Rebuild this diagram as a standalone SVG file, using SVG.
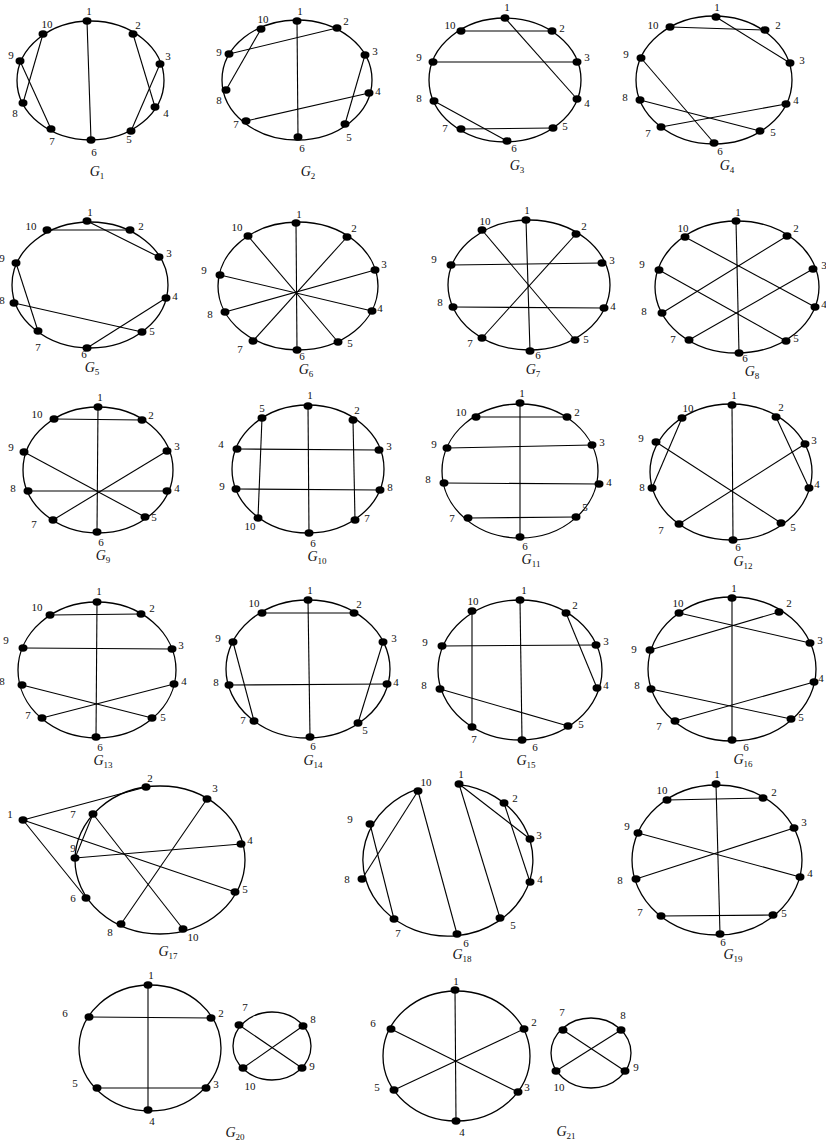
<svg xmlns="http://www.w3.org/2000/svg" width="826" height="1142" viewBox="0 0 826 1142">
<style>
.ring{fill:none;stroke:#000;stroke-width:1.3}
.e line{stroke:#000;stroke-width:1.1}
.n ellipse{fill:#000}
.n text{font-family:"Liberation Serif",serif;font-size:11px;fill:#111;text-anchor:middle}
.cap{font-family:"Liberation Serif",serif;font-size:14px;font-style:italic;text-anchor:middle;fill:#111}
.cap tspan{font-style:normal;font-size:9px}
</style>
<rect width="826" height="1142" fill="#fff"/>

<!-- G1 -->
<g id="G1">
<ellipse class="ring" cx="90.5" cy="80.5" rx="73.5" ry="59.5"/>
<g class="e" id="G1-edges"><line x1="87" y1="21" x2="91" y2="140"/><line x1="43" y1="34" x2="23" y2="103"/><line x1="20" y1="61" x2="51" y2="129"/><line x1="133" y1="34" x2="155" y2="107"/><line x1="160" y1="64" x2="131" y2="131"/></g>
<g class="n" id="G1-n1"><ellipse cx="87" cy="21" rx="4.5" ry="3.7"/><text x="89" y="15">1</text></g>
<g class="n" id="G1-n2"><ellipse cx="133" cy="34" rx="4.5" ry="3.7"/><text x="138" y="29">2</text></g>
<g class="n" id="G1-n3"><ellipse cx="160" cy="64" rx="4.5" ry="3.7"/><text x="168" y="60">3</text></g>
<g class="n" id="G1-n4"><ellipse cx="155" cy="107" rx="4.5" ry="3.7"/><text x="166" y="117">4</text></g>
<g class="n" id="G1-n5"><ellipse cx="131" cy="131" rx="4.5" ry="3.7"/><text x="129" y="143">5</text></g>
<g class="n" id="G1-n6"><ellipse cx="91" cy="140" rx="4.5" ry="3.7"/><text x="94" y="156">6</text></g>
<g class="n" id="G1-n7"><ellipse cx="51" cy="129" rx="4.5" ry="3.7"/><text x="52" y="145">7</text></g>
<g class="n" id="G1-n8"><ellipse cx="23" cy="103" rx="4.5" ry="3.7"/><text x="15" y="117">8</text></g>
<g class="n" id="G1-n9"><ellipse cx="20" cy="61" rx="4.5" ry="3.7"/><text x="11" y="59">9</text></g>
<g class="n" id="G1-n10"><ellipse cx="43" cy="34" rx="4.5" ry="3.7"/><text x="47" y="28">10</text></g>
<text class="cap" x="97" y="176">G<tspan dy="3">1</tspan></text>
</g>

<!-- G2 -->
<g id="G2">
<ellipse class="ring" cx="297" cy="80" rx="75" ry="60"/>
<g class="e" id="G2-edges"><line x1="297" y1="21" x2="298" y2="137"/><line x1="261" y1="29" x2="226" y2="90"/><line x1="229" y1="54" x2="337" y2="28"/><line x1="365" y1="55" x2="345" y2="124"/><line x1="246" y1="121" x2="369" y2="93"/></g>
<g class="n" id="G2-n1"><ellipse cx="297" cy="21" rx="4.5" ry="3.7"/><text x="300" y="15">1</text></g>
<g class="n" id="G2-n2"><ellipse cx="337" cy="28" rx="4.5" ry="3.7"/><text x="346" y="25">2</text></g>
<g class="n" id="G2-n3"><ellipse cx="365" cy="55" rx="4.5" ry="3.7"/><text x="375" y="55">3</text></g>
<g class="n" id="G2-n4"><ellipse cx="369" cy="93" rx="4.5" ry="3.7"/><text x="378" y="95">4</text></g>
<g class="n" id="G2-n5"><ellipse cx="345" cy="124" rx="4.5" ry="3.7"/><text x="349" y="141">5</text></g>
<g class="n" id="G2-n6"><ellipse cx="298" cy="137" rx="4.5" ry="3.7"/><text x="302" y="152">6</text></g>
<g class="n" id="G2-n7"><ellipse cx="246" cy="121" rx="4.5" ry="3.7"/><text x="236" y="128">7</text></g>
<g class="n" id="G2-n8"><ellipse cx="226" cy="90" rx="4.5" ry="3.7"/><text x="219" y="104">8</text></g>
<g class="n" id="G2-n9"><ellipse cx="229" cy="54" rx="4.5" ry="3.7"/><text x="219" y="56">9</text></g>
<g class="n" id="G2-n10"><ellipse cx="261" cy="29" rx="4.5" ry="3.7"/><text x="263" y="23">10</text></g>
<text class="cap" x="308" y="176">G<tspan dy="3">2</tspan></text>
</g>

<!-- G3 -->
<g id="G3">
<ellipse class="ring" cx="505" cy="80" rx="76" ry="62"/>
<g class="e" id="G3-edges"><line x1="505" y1="18" x2="577" y2="99"/><line x1="461" y1="31" x2="552" y2="31"/><line x1="433" y1="62" x2="577" y2="62"/><line x1="434" y1="101" x2="507" y2="141"/><line x1="461" y1="129" x2="553" y2="128"/></g>
<g class="n" id="G3-n1"><ellipse cx="505" cy="18" rx="4.5" ry="3.7"/><text x="507" y="11">1</text></g>
<g class="n" id="G3-n2"><ellipse cx="552" cy="31" rx="4.5" ry="3.7"/><text x="562" y="32">2</text></g>
<g class="n" id="G3-n3"><ellipse cx="577" cy="62" rx="4.5" ry="3.7"/><text x="587" y="61">3</text></g>
<g class="n" id="G3-n4"><ellipse cx="577" cy="99" rx="4.5" ry="3.7"/><text x="587" y="107">4</text></g>
<g class="n" id="G3-n5"><ellipse cx="553" cy="128" rx="4.5" ry="3.7"/><text x="565" y="130">5</text></g>
<g class="n" id="G3-n6"><ellipse cx="507" cy="141" rx="4.5" ry="3.7"/><text x="514" y="152">6</text></g>
<g class="n" id="G3-n7"><ellipse cx="461" cy="129" rx="4.5" ry="3.7"/><text x="445" y="132">7</text></g>
<g class="n" id="G3-n8"><ellipse cx="434" cy="101" rx="4.5" ry="3.7"/><text x="419" y="102">8</text></g>
<g class="n" id="G3-n9"><ellipse cx="433" cy="62" rx="4.5" ry="3.7"/><text x="419" y="61">9</text></g>
<g class="n" id="G3-n10"><ellipse cx="461" cy="31" rx="4.5" ry="3.7"/><text x="450" y="29">10</text></g>
<text class="cap" x="517" y="170">G<tspan dy="3">3</tspan></text>
</g>

<!-- G4 -->
<g id="G4">
<ellipse class="ring" cx="714" cy="80" rx="78" ry="64"/>
<g class="e" id="G4-edges"><line x1="670" y1="27" x2="765" y2="30"/><line x1="716" y1="17" x2="790" y2="63"/><line x1="641" y1="58" x2="714" y2="143"/><line x1="640" y1="100" x2="760" y2="131"/><line x1="661" y1="127" x2="786" y2="104"/></g>
<g class="n" id="G4-n1"><ellipse cx="716" cy="17" rx="4.5" ry="3.7"/><text x="717" y="11">1</text></g>
<g class="n" id="G4-n2"><ellipse cx="765" cy="30" rx="4.5" ry="3.7"/><text x="778" y="29">2</text></g>
<g class="n" id="G4-n3"><ellipse cx="790" cy="63" rx="4.5" ry="3.7"/><text x="802" y="64">3</text></g>
<g class="n" id="G4-n4"><ellipse cx="786" cy="104" rx="4.5" ry="3.7"/><text x="796" y="104">4</text></g>
<g class="n" id="G4-n5"><ellipse cx="760" cy="131" rx="4.5" ry="3.7"/><text x="773" y="136">5</text></g>
<g class="n" id="G4-n6"><ellipse cx="714" cy="143" rx="4.5" ry="3.7"/><text x="720" y="155">6</text></g>
<g class="n" id="G4-n7"><ellipse cx="661" cy="127" rx="4.5" ry="3.7"/><text x="648" y="137">7</text></g>
<g class="n" id="G4-n8"><ellipse cx="640" cy="100" rx="4.5" ry="3.7"/><text x="625" y="101">8</text></g>
<g class="n" id="G4-n9"><ellipse cx="641" cy="58" rx="4.5" ry="3.7"/><text x="626" y="58">9</text></g>
<g class="n" id="G4-n10"><ellipse cx="670" cy="27" rx="4.5" ry="3.7"/><text x="653" y="29">10</text></g>
<text class="cap" x="727" y="170">G<tspan dy="3">4</tspan></text>
</g>

<!-- G5 -->
<g id="G5">
<ellipse class="ring" cx="90" cy="285" rx="78" ry="63"/>
<g class="e" id="G5-edges"><line x1="47" y1="230" x2="130" y2="230"/><line x1="87" y1="221" x2="159" y2="257"/><line x1="16" y1="263" x2="38" y2="331"/><line x1="14" y1="303" x2="142" y2="332"/><line x1="87" y1="348" x2="166" y2="298"/></g>
<g class="n" id="G5-n1"><ellipse cx="87" cy="221" rx="4.5" ry="3.7"/><text x="90" y="216">1</text></g>
<g class="n" id="G5-n2"><ellipse cx="130" cy="230" rx="4.5" ry="3.7"/><text x="141" y="230">2</text></g>
<g class="n" id="G5-n3"><ellipse cx="159" cy="257" rx="4.5" ry="3.7"/><text x="169" y="257">3</text></g>
<g class="n" id="G5-n4"><ellipse cx="166" cy="298" rx="4.5" ry="3.7"/><text x="175" y="300">4</text></g>
<g class="n" id="G5-n5"><ellipse cx="142" cy="332" rx="4.5" ry="3.7"/><text x="152" y="335">5</text></g>
<g class="n" id="G5-n6"><ellipse cx="87" cy="348" rx="4.5" ry="3.7"/><text x="84" y="358">6</text></g>
<g class="n" id="G5-n7"><ellipse cx="38" cy="331" rx="4.5" ry="3.7"/><text x="38" y="351">7</text></g>
<g class="n" id="G5-n8"><ellipse cx="14" cy="303" rx="4.5" ry="3.7"/><text x="2" y="304">8</text></g>
<g class="n" id="G5-n9"><ellipse cx="16" cy="263" rx="4.5" ry="3.7"/><text x="2" y="262">9</text></g>
<g class="n" id="G5-n10"><ellipse cx="47" cy="230" rx="4.5" ry="3.7"/><text x="31" y="230">10</text></g>
<text class="cap" x="92" y="372">G<tspan dy="3">5</tspan></text>
</g>

<!-- G6 -->
<g id="G6">
<ellipse class="ring" cx="298" cy="286" rx="80" ry="64"/>
<g class="e" id="G6-edges"><line x1="296" y1="223" x2="297" y2="350"/><line x1="248" y1="236" x2="338" y2="342"/><line x1="347" y1="237" x2="253" y2="341"/><line x1="375" y1="270" x2="225" y2="312"/><line x1="220" y1="275" x2="372" y2="311"/></g>
<g class="n" id="G6-n1"><ellipse cx="296" cy="223" rx="4.5" ry="3.7"/><text x="299" y="218">1</text></g>
<g class="n" id="G6-n2"><ellipse cx="347" cy="237" rx="4.5" ry="3.7"/><text x="354" y="232">2</text></g>
<g class="n" id="G6-n3"><ellipse cx="375" cy="270" rx="4.5" ry="3.7"/><text x="384" y="268">3</text></g>
<g class="n" id="G6-n4"><ellipse cx="372" cy="311" rx="4.5" ry="3.7"/><text x="380" y="312">4</text></g>
<g class="n" id="G6-n5"><ellipse cx="338" cy="342" rx="4.5" ry="3.7"/><text x="350" y="347">5</text></g>
<g class="n" id="G6-n6"><ellipse cx="297" cy="350" rx="4.5" ry="3.7"/><text x="302" y="360">6</text></g>
<g class="n" id="G6-n7"><ellipse cx="253" cy="341" rx="4.5" ry="3.7"/><text x="240" y="353">7</text></g>
<g class="n" id="G6-n8"><ellipse cx="225" cy="312" rx="4.5" ry="3.7"/><text x="210" y="318">8</text></g>
<g class="n" id="G6-n9"><ellipse cx="220" cy="275" rx="4.5" ry="3.7"/><text x="204" y="274">9</text></g>
<g class="n" id="G6-n10"><ellipse cx="248" cy="236" rx="4.5" ry="3.7"/><text x="237" y="231">10</text></g>
<text class="cap" x="306" y="374">G<tspan dy="3">6</tspan></text>
</g>

<!-- G7 -->
<g id="G7">
<ellipse class="ring" cx="529" cy="285" rx="81" ry="65"/>
<g class="e" id="G7-edges"><line x1="526" y1="220" x2="530" y2="351"/><line x1="482" y1="230" x2="575" y2="340"/><line x1="576" y1="234" x2="482" y2="338"/><line x1="451" y1="265" x2="602" y2="263"/><line x1="453" y1="307" x2="604" y2="308"/></g>
<g class="n" id="G7-n1"><ellipse cx="526" cy="220" rx="4.5" ry="3.7"/><text x="527" y="214">1</text></g>
<g class="n" id="G7-n2"><ellipse cx="576" cy="234" rx="4.5" ry="3.7"/><text x="584" y="230">2</text></g>
<g class="n" id="G7-n3"><ellipse cx="602" cy="263" rx="4.5" ry="3.7"/><text x="612" y="264">3</text></g>
<g class="n" id="G7-n4"><ellipse cx="604" cy="308" rx="4.5" ry="3.7"/><text x="613" y="310">4</text></g>
<g class="n" id="G7-n5"><ellipse cx="575" cy="340" rx="4.5" ry="3.7"/><text x="586" y="343">5</text></g>
<g class="n" id="G7-n6"><ellipse cx="530" cy="351" rx="4.5" ry="3.7"/><text x="538" y="359">6</text></g>
<g class="n" id="G7-n7"><ellipse cx="482" cy="338" rx="4.5" ry="3.7"/><text x="470" y="347">7</text></g>
<g class="n" id="G7-n8"><ellipse cx="453" cy="307" rx="4.5" ry="3.7"/><text x="440" y="306">8</text></g>
<g class="n" id="G7-n9"><ellipse cx="451" cy="265" rx="4.5" ry="3.7"/><text x="434" y="263">9</text></g>
<g class="n" id="G7-n10"><ellipse cx="482" cy="230" rx="4.5" ry="3.7"/><text x="485" y="225">10</text></g>
<text class="cap" x="533" y="374">G<tspan dy="3">7</tspan></text>
</g>

<!-- G8 -->
<g id="G8">
<ellipse class="ring" cx="737" cy="287" rx="82" ry="66"/>
<g class="e" id="G8-edges"><line x1="736" y1="221" x2="739" y2="353"/><line x1="685" y1="237" x2="815" y2="307"/><line x1="787" y1="236" x2="662" y2="313"/><line x1="659" y1="270" x2="786" y2="341"/><line x1="689" y1="340" x2="813" y2="269"/></g>
<g class="n" id="G8-n1"><ellipse cx="736" cy="221" rx="4.5" ry="3.7"/><text x="738" y="216">1</text></g>
<g class="n" id="G8-n2"><ellipse cx="787" cy="236" rx="4.5" ry="3.7"/><text x="796" y="232">2</text></g>
<g class="n" id="G8-n3"><ellipse cx="813" cy="269" rx="4.5" ry="3.7"/><text x="824" y="269">3</text></g>
<g class="n" id="G8-n4"><ellipse cx="815" cy="307" rx="4.5" ry="3.7"/><text x="824" y="308">4</text></g>
<g class="n" id="G8-n5"><ellipse cx="786" cy="341" rx="4.5" ry="3.7"/><text x="796" y="342">5</text></g>
<g class="n" id="G8-n6"><ellipse cx="739" cy="353" rx="4.5" ry="3.7"/><text x="745" y="362">6</text></g>
<g class="n" id="G8-n7"><ellipse cx="689" cy="340" rx="4.5" ry="3.7"/><text x="673" y="343">7</text></g>
<g class="n" id="G8-n8"><ellipse cx="662" cy="313" rx="4.5" ry="3.7"/><text x="644" y="315">8</text></g>
<g class="n" id="G8-n9"><ellipse cx="659" cy="270" rx="4.5" ry="3.7"/><text x="642" y="268">9</text></g>
<g class="n" id="G8-n10"><ellipse cx="685" cy="237" rx="4.5" ry="3.7"/><text x="683" y="232">10</text></g>
<text class="cap" x="752" y="376">G<tspan dy="3">8</tspan></text>
</g>

<!-- G9 -->
<g id="G9">
<ellipse class="ring" cx="98" cy="470" rx="75" ry="63"/>
<g class="e" id="G9-edges"><line x1="98" y1="407" x2="97" y2="532"/><line x1="54" y1="419" x2="142" y2="420"/><line x1="24" y1="452" x2="145" y2="517"/><line x1="167" y1="451" x2="53" y2="520"/><line x1="28" y1="491" x2="167" y2="491"/></g>
<g class="n" id="G9-n1"><ellipse cx="98" cy="407" rx="4.5" ry="3.7"/><text x="100" y="401">1</text></g>
<g class="n" id="G9-n2"><ellipse cx="142" cy="420" rx="4.5" ry="3.7"/><text x="151" y="419">2</text></g>
<g class="n" id="G9-n3"><ellipse cx="167" cy="451" rx="4.5" ry="3.7"/><text x="177" y="450">3</text></g>
<g class="n" id="G9-n4"><ellipse cx="167" cy="491" rx="4.5" ry="3.7"/><text x="177" y="492">4</text></g>
<g class="n" id="G9-n5"><ellipse cx="145" cy="517" rx="4.5" ry="3.7"/><text x="154" y="521">5</text></g>
<g class="n" id="G9-n6"><ellipse cx="97" cy="532" rx="4.5" ry="3.7"/><text x="101" y="546">6</text></g>
<g class="n" id="G9-n7"><ellipse cx="53" cy="520" rx="4.5" ry="3.7"/><text x="34" y="528">7</text></g>
<g class="n" id="G9-n8"><ellipse cx="28" cy="491" rx="4.5" ry="3.7"/><text x="13" y="492">8</text></g>
<g class="n" id="G9-n9"><ellipse cx="24" cy="452" rx="4.5" ry="3.7"/><text x="11" y="451">9</text></g>
<g class="n" id="G9-n10"><ellipse cx="54" cy="419" rx="4.5" ry="3.7"/><text x="37" y="418">10</text></g>
<text class="cap" x="103" y="560">G<tspan dy="3">9</tspan></text>
</g>

<!-- G10 -->
<g id="G10">
<ellipse class="ring" cx="308" cy="469" rx="76" ry="64"/>
<g class="e" id="G10-edges"><line x1="308" y1="406" x2="309" y2="533"/><line x1="262" y1="418" x2="258" y2="518"/><line x1="353" y1="420" x2="355" y2="520"/><line x1="237" y1="449" x2="379" y2="450"/><line x1="236" y1="489" x2="380" y2="490"/></g>
<g class="n" id="G10-n1"><ellipse cx="308" cy="406" rx="4.5" ry="3.7"/><text x="310" y="399">1</text></g>
<g class="n" id="G10-n2"><ellipse cx="353" cy="420" rx="4.5" ry="3.7"/><text x="357" y="414">2</text></g>
<g class="n" id="G10-n3"><ellipse cx="379" cy="450" rx="4.5" ry="3.7"/><text x="389" y="450">3</text></g>
<g class="n" id="G10-n4"><ellipse cx="237" cy="449" rx="4.5" ry="3.7"/><text x="221" y="448">4</text></g>
<g class="n" id="G10-n5"><ellipse cx="262" cy="418" rx="4.5" ry="3.7"/><text x="262" y="412">5</text></g>
<g class="n" id="G10-n6"><ellipse cx="309" cy="533" rx="4.5" ry="3.7"/><text x="313" y="547">6</text></g>
<g class="n" id="G10-n7"><ellipse cx="355" cy="520" rx="4.5" ry="3.7"/><text x="367" y="522">7</text></g>
<g class="n" id="G10-n8"><ellipse cx="380" cy="490" rx="4.5" ry="3.7"/><text x="390" y="491">8</text></g>
<g class="n" id="G10-n9"><ellipse cx="236" cy="489" rx="4.5" ry="3.7"/><text x="222" y="490">9</text></g>
<g class="n" id="G10-n10"><ellipse cx="258" cy="518" rx="4.5" ry="3.7"/><text x="250" y="530">10</text></g>
<text class="cap" x="317" y="561">G<tspan dy="3">10</tspan></text>
</g>

<!-- G11 -->
<g id="G11">
<ellipse class="ring" cx="520" cy="471" rx="78" ry="67"/>
<g class="e" id="G11-edges"><line x1="520" y1="403" x2="520" y2="537"/><line x1="476" y1="417" x2="567" y2="417"/><line x1="447" y1="448" x2="592" y2="445"/><line x1="444" y1="483" x2="599" y2="484"/><line x1="468" y1="518" x2="576" y2="517"/></g>
<g class="n" id="G11-n1"><ellipse cx="520" cy="403" rx="4.5" ry="3.7"/><text x="522" y="397">1</text></g>
<g class="n" id="G11-n2"><ellipse cx="567" cy="417" rx="4.5" ry="3.7"/><text x="577" y="416">2</text></g>
<g class="n" id="G11-n3"><ellipse cx="592" cy="445" rx="4.5" ry="3.7"/><text x="602" y="446">3</text></g>
<g class="n" id="G11-n4"><ellipse cx="599" cy="484" rx="4.5" ry="3.7"/><text x="609" y="486">4</text></g>
<g class="n" id="G11-n5"><ellipse cx="576" cy="517" rx="4.5" ry="3.7"/><text x="585" y="511">5</text></g>
<g class="n" id="G11-n6"><ellipse cx="520" cy="537" rx="4.5" ry="3.7"/><text x="525" y="550">6</text></g>
<g class="n" id="G11-n7"><ellipse cx="468" cy="518" rx="4.5" ry="3.7"/><text x="452" y="522">7</text></g>
<g class="n" id="G11-n8"><ellipse cx="444" cy="483" rx="4.5" ry="3.7"/><text x="428" y="483">8</text></g>
<g class="n" id="G11-n9"><ellipse cx="447" cy="448" rx="4.5" ry="3.7"/><text x="434" y="448">9</text></g>
<g class="n" id="G11-n10"><ellipse cx="476" cy="417" rx="4.5" ry="3.7"/><text x="461" y="416">10</text></g>
<text class="cap" x="531" y="564">G<tspan dy="3">11</tspan></text>
</g>

<!-- G12 -->
<g id="G12">
<ellipse class="ring" cx="731" cy="472" rx="81" ry="68"/>
<g class="e" id="G12-edges"><line x1="732" y1="405" x2="733" y2="540"/><line x1="682" y1="418" x2="652" y2="488"/><line x1="776" y1="417" x2="809" y2="488"/><line x1="656" y1="442" x2="781" y2="523"/><line x1="805" y1="444" x2="679" y2="524"/></g>
<g class="n" id="G12-n1"><ellipse cx="732" cy="405" rx="4.5" ry="3.7"/><text x="734" y="399">1</text></g>
<g class="n" id="G12-n2"><ellipse cx="776" cy="417" rx="4.5" ry="3.7"/><text x="781" y="411">2</text></g>
<g class="n" id="G12-n3"><ellipse cx="805" cy="444" rx="4.5" ry="3.7"/><text x="814" y="444">3</text></g>
<g class="n" id="G12-n4"><ellipse cx="809" cy="488" rx="4.5" ry="3.7"/><text x="817" y="488">4</text></g>
<g class="n" id="G12-n5"><ellipse cx="781" cy="523" rx="4.5" ry="3.7"/><text x="793" y="531">5</text></g>
<g class="n" id="G12-n6"><ellipse cx="733" cy="540" rx="4.5" ry="3.7"/><text x="738" y="551">6</text></g>
<g class="n" id="G12-n7"><ellipse cx="679" cy="524" rx="4.5" ry="3.7"/><text x="661" y="534">7</text></g>
<g class="n" id="G12-n8"><ellipse cx="652" cy="488" rx="4.5" ry="3.7"/><text x="642" y="491">8</text></g>
<g class="n" id="G12-n9"><ellipse cx="656" cy="442" rx="4.5" ry="3.7"/><text x="641" y="442">9</text></g>
<g class="n" id="G12-n10"><ellipse cx="682" cy="418" rx="4.5" ry="3.7"/><text x="688" y="412">10</text></g>
<text class="cap" x="743" y="566">G<tspan dy="3">12</tspan></text>
</g>

<!-- G13 -->
<g id="G13">
<ellipse class="ring" cx="97" cy="670" rx="79" ry="68"/>
<g class="e" id="G13-edges"><line x1="97" y1="602" x2="96" y2="737"/><line x1="50" y1="615" x2="141" y2="614"/><line x1="23" y1="648" x2="172" y2="649"/><line x1="22" y1="685" x2="152" y2="718"/><line x1="42" y1="718" x2="174" y2="684"/></g>
<g class="n" id="G13-n1"><ellipse cx="97" cy="602" rx="4.5" ry="3.7"/><text x="99" y="595">1</text></g>
<g class="n" id="G13-n2"><ellipse cx="141" cy="614" rx="4.5" ry="3.7"/><text x="152" y="612">2</text></g>
<g class="n" id="G13-n3"><ellipse cx="172" cy="649" rx="4.5" ry="3.7"/><text x="181" y="649">3</text></g>
<g class="n" id="G13-n4"><ellipse cx="174" cy="684" rx="4.5" ry="3.7"/><text x="184" y="685">4</text></g>
<g class="n" id="G13-n5"><ellipse cx="152" cy="718" rx="4.5" ry="3.7"/><text x="163" y="721">5</text></g>
<g class="n" id="G13-n6"><ellipse cx="96" cy="737" rx="4.5" ry="3.7"/><text x="100" y="751">6</text></g>
<g class="n" id="G13-n7"><ellipse cx="42" cy="718" rx="4.5" ry="3.7"/><text x="28" y="719">7</text></g>
<g class="n" id="G13-n8"><ellipse cx="22" cy="685" rx="4.5" ry="3.7"/><text x="2" y="685">8</text></g>
<g class="n" id="G13-n9"><ellipse cx="23" cy="648" rx="4.5" ry="3.7"/><text x="6" y="644">9</text></g>
<g class="n" id="G13-n10"><ellipse cx="50" cy="615" rx="4.5" ry="3.7"/><text x="37" y="611">10</text></g>
<text class="cap" x="103" y="765">G<tspan dy="3">13</tspan></text>
</g>

<!-- G14 -->
<g id="G14">
<ellipse class="ring" cx="308" cy="669" rx="82" ry="69"/>
<g class="e" id="G14-edges"><line x1="308" y1="600" x2="310" y2="737"/><line x1="262" y1="613" x2="354" y2="613"/><line x1="233" y1="642" x2="254" y2="721"/><line x1="229" y1="685" x2="387" y2="684"/><line x1="383" y1="642" x2="358" y2="723"/></g>
<g class="n" id="G14-n1"><ellipse cx="308" cy="600" rx="4.5" ry="3.7"/><text x="310" y="594">1</text></g>
<g class="n" id="G14-n2"><ellipse cx="354" cy="613" rx="4.5" ry="3.7"/><text x="359" y="608">2</text></g>
<g class="n" id="G14-n3"><ellipse cx="383" cy="642" rx="4.5" ry="3.7"/><text x="394" y="642">3</text></g>
<g class="n" id="G14-n4"><ellipse cx="387" cy="684" rx="4.5" ry="3.7"/><text x="396" y="686">4</text></g>
<g class="n" id="G14-n5"><ellipse cx="358" cy="723" rx="4.5" ry="3.7"/><text x="365" y="734">5</text></g>
<g class="n" id="G14-n6"><ellipse cx="310" cy="737" rx="4.5" ry="3.7"/><text x="313" y="750">6</text></g>
<g class="n" id="G14-n7"><ellipse cx="254" cy="721" rx="4.5" ry="3.7"/><text x="243" y="724">7</text></g>
<g class="n" id="G14-n8"><ellipse cx="229" cy="685" rx="4.5" ry="3.7"/><text x="216" y="686">8</text></g>
<g class="n" id="G14-n9"><ellipse cx="233" cy="642" rx="4.5" ry="3.7"/><text x="218" y="642">9</text></g>
<g class="n" id="G14-n10"><ellipse cx="262" cy="613" rx="4.5" ry="3.7"/><text x="254" y="607">10</text></g>
<text class="cap" x="313" y="765">G<tspan dy="3">14</tspan></text>
</g>

<!-- G15 -->
<g id="G15">
<ellipse class="ring" cx="520" cy="670" rx="82" ry="70"/>
<g class="e" id="G15-edges"><line x1="520" y1="600" x2="522" y2="740"/><line x1="472" y1="611" x2="472" y2="727"/><line x1="442" y1="646" x2="596" y2="645"/><line x1="566" y1="613" x2="597" y2="688"/><line x1="440" y1="689" x2="568" y2="726"/></g>
<g class="n" id="G15-n1"><ellipse cx="520" cy="600" rx="4.5" ry="3.7"/><text x="524" y="594">1</text></g>
<g class="n" id="G15-n2"><ellipse cx="566" cy="613" rx="4.5" ry="3.7"/><text x="575" y="609">2</text></g>
<g class="n" id="G15-n3"><ellipse cx="596" cy="645" rx="4.5" ry="3.7"/><text x="606" y="645">3</text></g>
<g class="n" id="G15-n4"><ellipse cx="597" cy="688" rx="4.5" ry="3.7"/><text x="606" y="689">4</text></g>
<g class="n" id="G15-n5"><ellipse cx="568" cy="726" rx="4.5" ry="3.7"/><text x="581" y="728">5</text></g>
<g class="n" id="G15-n6"><ellipse cx="522" cy="740" rx="4.5" ry="3.7"/><text x="535" y="751">6</text></g>
<g class="n" id="G15-n7"><ellipse cx="472" cy="727" rx="4.5" ry="3.7"/><text x="474" y="743">7</text></g>
<g class="n" id="G15-n8"><ellipse cx="440" cy="689" rx="4.5" ry="3.7"/><text x="424" y="689">8</text></g>
<g class="n" id="G15-n9"><ellipse cx="442" cy="646" rx="4.5" ry="3.7"/><text x="425" y="646">9</text></g>
<g class="n" id="G15-n10"><ellipse cx="472" cy="611" rx="4.5" ry="3.7"/><text x="473" y="605">10</text></g>
<text class="cap" x="526" y="765">G<tspan dy="3">15</tspan></text>
</g>

<!-- G16 -->
<g id="G16">
<ellipse class="ring" cx="732" cy="669" rx="84" ry="72"/>
<g class="e" id="G16-edges"><line x1="732" y1="598" x2="732" y2="740"/><line x1="679" y1="613" x2="810" y2="643"/><line x1="650" y1="650" x2="779" y2="612"/><line x1="651" y1="689" x2="791" y2="719"/><line x1="675" y1="721" x2="814" y2="682"/></g>
<g class="n" id="G16-n1"><ellipse cx="732" cy="598" rx="4.5" ry="3.7"/><text x="734" y="592">1</text></g>
<g class="n" id="G16-n2"><ellipse cx="779" cy="612" rx="4.5" ry="3.7"/><text x="789" y="607">2</text></g>
<g class="n" id="G16-n3"><ellipse cx="810" cy="643" rx="4.5" ry="3.7"/><text x="820" y="644">3</text></g>
<g class="n" id="G16-n4"><ellipse cx="814" cy="682" rx="4.5" ry="3.7"/><text x="821" y="682">4</text></g>
<g class="n" id="G16-n5"><ellipse cx="791" cy="719" rx="4.5" ry="3.7"/><text x="801" y="721">5</text></g>
<g class="n" id="G16-n6"><ellipse cx="732" cy="740" rx="4.5" ry="3.7"/><text x="746" y="751">6</text></g>
<g class="n" id="G16-n7"><ellipse cx="675" cy="721" rx="4.5" ry="3.7"/><text x="659" y="730">7</text></g>
<g class="n" id="G16-n8"><ellipse cx="651" cy="689" rx="4.5" ry="3.7"/><text x="637" y="689">8</text></g>
<g class="n" id="G16-n9"><ellipse cx="650" cy="650" rx="4.5" ry="3.7"/><text x="634" y="653">9</text></g>
<g class="n" id="G16-n10"><ellipse cx="679" cy="613" rx="4.5" ry="3.7"/><text x="678" y="607">10</text></g>
<text class="cap" x="743" y="764">G<tspan dy="3">16</tspan></text>
</g>

<!-- G17 -->
<g id="G17">
<ellipse class="ring" cx="160" cy="860" rx="85" ry="74"/>
<g class="e" id="G17-edges"><line x1="23" y1="820" x2="146" y2="787"/><line x1="23" y1="820" x2="86" y2="898"/><line x1="23" y1="820" x2="235" y2="892"/><line x1="93" y1="814" x2="75" y2="858"/><line x1="93" y1="814" x2="183" y2="929"/><line x1="75" y1="858" x2="241" y2="844"/><line x1="207" y1="799" x2="121" y2="924"/></g>
<g class="n" id="G17-n1"><ellipse cx="23" cy="820" rx="4.5" ry="3.7"/><text x="10" y="818">1</text></g>
<g class="n" id="G17-n2"><ellipse cx="146" cy="787" rx="4.5" ry="3.7"/><text x="150" y="782">2</text></g>
<g class="n" id="G17-n3"><ellipse cx="207" cy="799" rx="4.5" ry="3.7"/><text x="215" y="792">3</text></g>
<g class="n" id="G17-n4"><ellipse cx="241" cy="844" rx="4.5" ry="3.7"/><text x="250" y="844">4</text></g>
<g class="n" id="G17-n5"><ellipse cx="235" cy="892" rx="4.5" ry="3.7"/><text x="245" y="893">5</text></g>
<g class="n" id="G17-n6"><ellipse cx="86" cy="898" rx="4.5" ry="3.7"/><text x="73" y="902">6</text></g>
<g class="n" id="G17-n7"><ellipse cx="93" cy="814" rx="4.5" ry="3.7"/><text x="73" y="818">7</text></g>
<g class="n" id="G17-n8"><ellipse cx="121" cy="924" rx="4.5" ry="3.7"/><text x="110" y="936">8</text></g>
<g class="n" id="G17-n9"><ellipse cx="75" cy="858" rx="4.5" ry="3.7"/><text x="73" y="852">9</text></g>
<g class="n" id="G17-n10"><ellipse cx="183" cy="929" rx="4.5" ry="3.7"/><text x="193" y="941">10</text></g>
<text class="cap" x="168" y="956">G<tspan dy="3">17</tspan></text>
</g>

<!-- G18 -->
<g id="G18">
<path class="ring" d="M459,784.7 A85,76 0 1 1 418,788.9"/>
<g class="e" id="G18-edges"><line x1="459" y1="784" x2="530" y2="839"/><line x1="459" y1="784" x2="500" y2="918"/><line x1="504" y1="803" x2="530" y2="882"/><line x1="418" y1="791" x2="457" y2="934"/><line x1="418" y1="791" x2="362" y2="879"/><line x1="370" y1="824" x2="394" y2="919"/></g>
<g class="n" id="G18-n1"><ellipse cx="459" cy="784" rx="4.5" ry="3.7"/><text x="461" y="778">1</text></g>
<g class="n" id="G18-n2"><ellipse cx="504" cy="803" rx="4.5" ry="3.7"/><text x="515" y="802">2</text></g>
<g class="n" id="G18-n3"><ellipse cx="530" cy="839" rx="4.5" ry="3.7"/><text x="539" y="839">3</text></g>
<g class="n" id="G18-n4"><ellipse cx="530" cy="882" rx="4.5" ry="3.7"/><text x="540" y="883">4</text></g>
<g class="n" id="G18-n5"><ellipse cx="500" cy="918" rx="4.5" ry="3.7"/><text x="513" y="929">5</text></g>
<g class="n" id="G18-n6"><ellipse cx="457" cy="934" rx="4.5" ry="3.7"/><text x="466" y="947">6</text></g>
<g class="n" id="G18-n7"><ellipse cx="394" cy="919" rx="4.5" ry="3.7"/><text x="398" y="937">7</text></g>
<g class="n" id="G18-n8"><ellipse cx="362" cy="879" rx="4.5" ry="3.7"/><text x="347" y="883">8</text></g>
<g class="n" id="G18-n9"><ellipse cx="370" cy="824" rx="4.5" ry="3.7"/><text x="350" y="823">9</text></g>
<g class="n" id="G18-n10"><ellipse cx="418" cy="791" rx="4.5" ry="3.7"/><text x="426" y="786">10</text></g>
<text class="cap" x="462" y="959">G<tspan dy="3">18</tspan></text>
</g>

<!-- G19 -->
<g id="G19">
<ellipse class="ring" cx="717" cy="860" rx="85" ry="75"/>
<g class="e" id="G19-edges"><line x1="716" y1="784" x2="720" y2="934"/><line x1="667" y1="800" x2="763" y2="798"/><line x1="638" y1="833" x2="800" y2="877"/><line x1="636" y1="879" x2="794" y2="828"/><line x1="661" y1="916" x2="773" y2="915"/></g>
<g class="n" id="G19-n1"><ellipse cx="716" cy="784" rx="4.5" ry="3.7"/><text x="717" y="778">1</text></g>
<g class="n" id="G19-n2"><ellipse cx="763" cy="798" rx="4.5" ry="3.7"/><text x="774" y="796">2</text></g>
<g class="n" id="G19-n3"><ellipse cx="794" cy="828" rx="4.5" ry="3.7"/><text x="804" y="826">3</text></g>
<g class="n" id="G19-n4"><ellipse cx="800" cy="877" rx="4.5" ry="3.7"/><text x="810" y="877">4</text></g>
<g class="n" id="G19-n5"><ellipse cx="773" cy="915" rx="4.5" ry="3.7"/><text x="784" y="917">5</text></g>
<g class="n" id="G19-n6"><ellipse cx="720" cy="934" rx="4.5" ry="3.7"/><text x="723" y="946">6</text></g>
<g class="n" id="G19-n7"><ellipse cx="661" cy="916" rx="4.5" ry="3.7"/><text x="640" y="916">7</text></g>
<g class="n" id="G19-n8"><ellipse cx="636" cy="879" rx="4.5" ry="3.7"/><text x="620" y="884">8</text></g>
<g class="n" id="G19-n9"><ellipse cx="638" cy="833" rx="4.5" ry="3.7"/><text x="627" y="830">9</text></g>
<g class="n" id="G19-n10"><ellipse cx="667" cy="800" rx="4.5" ry="3.7"/><text x="662" y="794">10</text></g>
<text class="cap" x="733" y="959">G<tspan dy="3">19</tspan></text>
</g>

<!-- G20 -->
<g id="G20">
<ellipse class="ring" cx="150" cy="1048" rx="71" ry="63"/>
<ellipse class="ring" cx="272" cy="1046" rx="39" ry="34"/>
<g class="e" id="G20-edges"><line x1="148" y1="985" x2="148" y2="1110"/><line x1="89" y1="1017" x2="211" y2="1018"/><line x1="97" y1="1088" x2="206" y2="1088"/><line x1="239" y1="1025" x2="302" y2="1068"/><line x1="303" y1="1026" x2="243" y2="1068"/></g>
<g class="n" id="G20-n1"><ellipse cx="148" cy="985" rx="4.5" ry="3.7"/><text x="151" y="979">1</text></g>
<g class="n" id="G20-n2"><ellipse cx="211" cy="1018" rx="4.5" ry="3.7"/><text x="221" y="1017">2</text></g>
<g class="n" id="G20-n3"><ellipse cx="206" cy="1088" rx="4.5" ry="3.7"/><text x="216" y="1088">3</text></g>
<g class="n" id="G20-n4"><ellipse cx="148" cy="1110" rx="4.5" ry="3.7"/><text x="152" y="1125">4</text></g>
<g class="n" id="G20-n5"><ellipse cx="97" cy="1088" rx="4.5" ry="3.7"/><text x="75" y="1087">5</text></g>
<g class="n" id="G20-n6"><ellipse cx="89" cy="1017" rx="4.5" ry="3.7"/><text x="65" y="1017">6</text></g>
<g class="n" id="G20-n7"><ellipse cx="239" cy="1025" rx="4.5" ry="3.7"/><text x="245" y="1011">7</text></g>
<g class="n" id="G20-n8"><ellipse cx="303" cy="1026" rx="4.5" ry="3.7"/><text x="313" y="1023">8</text></g>
<g class="n" id="G20-n9"><ellipse cx="302" cy="1068" rx="4.5" ry="3.7"/><text x="312" y="1070">9</text></g>
<g class="n" id="G20-n10"><ellipse cx="243" cy="1068" rx="4.5" ry="3.7"/><text x="250" y="1090">10</text></g>
<text class="cap" x="235" y="1137">G<tspan dy="3">20</tspan></text>
</g>

<!-- G21 -->
<g id="G21">
<ellipse class="ring" cx="456.5" cy="1056" rx="73.5" ry="65"/>
<ellipse class="ring" cx="591" cy="1053" rx="40" ry="35"/>
<g class="e" id="G21-edges"><line x1="455" y1="990" x2="456" y2="1121"/><line x1="391" y1="1029" x2="518" y2="1092"/><line x1="394" y1="1090" x2="524" y2="1029"/><line x1="563" y1="1030" x2="625" y2="1071"/><line x1="621" y1="1030" x2="556" y2="1071"/></g>
<g class="n" id="G21-n1"><ellipse cx="455" cy="990" rx="4.5" ry="3.7"/><text x="456" y="985">1</text></g>
<g class="n" id="G21-n2"><ellipse cx="524" cy="1029" rx="4.5" ry="3.7"/><text x="534" y="1026">2</text></g>
<g class="n" id="G21-n3"><ellipse cx="518" cy="1092" rx="4.5" ry="3.7"/><text x="527" y="1091">3</text></g>
<g class="n" id="G21-n4"><ellipse cx="456" cy="1121" rx="4.5" ry="3.7"/><text x="462" y="1136">4</text></g>
<g class="n" id="G21-n5"><ellipse cx="394" cy="1090" rx="4.5" ry="3.7"/><text x="377" y="1091">5</text></g>
<g class="n" id="G21-n6"><ellipse cx="391" cy="1029" rx="4.5" ry="3.7"/><text x="373" y="1027">6</text></g>
<g class="n" id="G21-n7"><ellipse cx="563" cy="1030" rx="4.5" ry="3.7"/><text x="562" y="1016">7</text></g>
<g class="n" id="G21-n8"><ellipse cx="621" cy="1030" rx="4.5" ry="3.7"/><text x="623" y="1019">8</text></g>
<g class="n" id="G21-n9"><ellipse cx="625" cy="1071" rx="4.5" ry="3.7"/><text x="636" y="1071">9</text></g>
<g class="n" id="G21-n10"><ellipse cx="556" cy="1071" rx="4.5" ry="3.7"/><text x="559" y="1091">10</text></g>
<text class="cap" x="566" y="1136">G<tspan dy="3">21</tspan></text>
</g>
</svg>
